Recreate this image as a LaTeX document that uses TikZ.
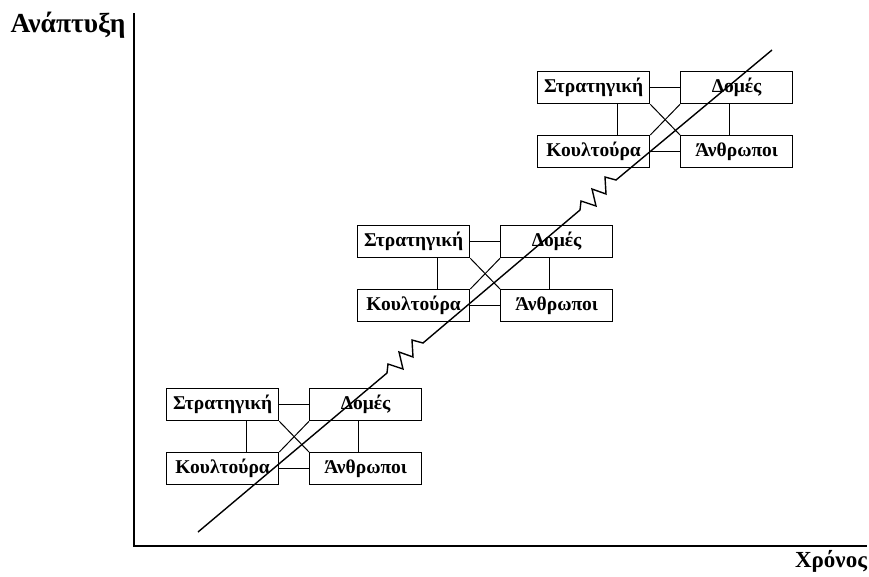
\documentclass[tikz,border=0pt]{standalone}
\usepackage{fontspec}
\setmainfont{Liberation Serif}
\begin{document}
\begin{tikzpicture}[x=1pt,y=-1pt,
  box/.style={draw,line width=1.3pt,minimum width=112pt,minimum height=32pt,inner sep=0pt,font=\fontsize{19.5}{22}\selectfont\bfseries,anchor=north west},
  conn/.style={line width=1pt},
  axis/.style={line width=1.2pt},
  mainline/.style={line width=1.4pt,line join=miter},
  lbl/.style={font=\fontsize{24}{28}\selectfont\bfseries,inner sep=0pt}]
\useasboundingbox (0,0) rectangle (869,576);
% axes
\coordinate (ytop) at (134,13);
\coordinate (orig) at (134,546);
\coordinate (xend) at (867,546);
\draw[axis] (ytop) -- (orig) -- (xend);
\node[lbl,font=\fontsize{27.5}{30}\selectfont\bfseries,anchor=base] (ylab) at (68,32) {Ανάπτυξη};
\node[lbl,font=\fontsize{23}{28}\selectfont\bfseries,anchor=base] (xlab) at (831,567) {Χρόνος};
% groups
\foreach \g/\x/\y in {1/166/388, 2/357/225, 3/537/71}{
  \node[box] (s\g) at (\x,\y) {Στρατηγική};
  \node[box] (d\g) at (\x+143,\y) {Δομές};
  \node[box] (k\g) at (\x,\y+64) {Κουλτούρα};
  \node[box] (a\g) at (\x+143,\y+64) {Άνθρωποι};
  \draw[conn] (s\g.east) -- (d\g.west);
  \draw[conn] (k\g.east) -- (a\g.west);
  \draw[conn] (s\g.south east) -- (a\g.north west);
  \draw[conn] (d\g.south west) -- (k\g.north east);
  \draw[conn] ([xshift=80pt]s\g.south west) -- ([xshift=80pt]k\g.north west);
  \draw[conn] ([xshift=49pt]d\g.south west) -- ([xshift=49pt]a\g.north west);
}
% main line with two zigzags
\coordinate (p0) at (198,532);
\coordinate (z1) at (387,373);
\coordinate (z2) at (580,210);
\coordinate (p1) at (772,50);
\draw[mainline] (p0) -- (z1)
  -- ++(1,-9) -- ++(15,5) -- ++(-4,-17) -- ++(14,5) -- ++(-1,-17) -- ++(11,3)
  -- (z2)
  -- ++(1,-9) -- ++(15,5) -- ++(-4,-17) -- ++(14,5) -- ++(-1,-17) -- ++(11,3)
  -- (p1);
\end{tikzpicture}
\end{document}
